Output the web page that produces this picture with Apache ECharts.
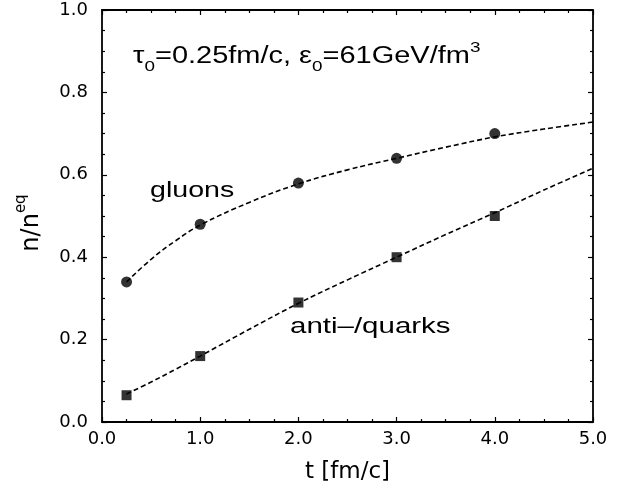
<!DOCTYPE html>
<html><head><meta charset="utf-8">
<script src="https://cdn.jsdelivr.net/npm/echarts@6/dist/echarts.min.js"></script>
<style>html,body{margin:0;padding:0;background:#fff}#c{width:633px;height:487px}</style>
</head><body><div id="c"></div>
<script>
// data
const gluonT = [0.25, 1, 2, 3, 4];
const gluonN = [0.34, 0.48, 0.58, 0.64, 0.70];
const quarkT = [0.25, 1, 2, 3, 4];
const quarkN = [0.065, 0.16, 0.29, 0.40, 0.50];
const gluonCurveT = [0.25, 0.5, 0.75, 1, 1.5, 2, 2.5, 3, 3.5, 4, 4.5, 5];
const gluonCurveN = [0.34, 0.395, 0.44, 0.478, 0.533, 0.578, 0.612, 0.640, 0.667, 0.692, 0.711, 0.728];
const quarkCurveT = [0.25, 0.5, 0.75, 1, 1.5, 2, 2.5, 3, 3.5, 4, 4.5, 5];
const quarkCurveN = [0.068, 0.097, 0.128, 0.16, 0.225, 0.288, 0.345, 0.40, 0.455, 0.508, 0.563, 0.616];
const xRange = [0, 5];
const yRange = [0, 1];
const xName = 't [fm/c]';
const gluonLabel = 'gluons';
const quarkLabel = 'anti–/quarks';

const zip = (a, b) => a.map((v, i) => [v, b[i]]);
const AX = 'DejaVu Sans';
const TX = 'Liberation Sans';

function xAx(pos, show) {
  return {
    type: 'value', position: pos, min: xRange[0], max: xRange[1], interval: 1,
    axisLine: { show: true, onZero: false, lineStyle: { color: '#000', width: 1.8 } },
    axisTick: { show: true, inside: true, length: 5, lineStyle: { color: '#000', width: 1.2 } },
    minorTick: { show: true, splitNumber: 4, length: 3, lineStyle: { color: '#000', width: 1.2 } },
    splitLine: { show: false },
    axisLabel: { show: show, margin: 8, color: '#000', fontFamily: AX, fontSize: 18, formatter: v => v.toFixed(1) },
    name: show ? xName : '', nameLocation: 'middle', nameGap: 39,
    nameTextStyle: { color: '#000', fontFamily: AX, fontSize: 23 }
  };
}
function yAx(pos, show) {
  return {
    type: 'value', position: pos, min: yRange[0], max: yRange[1], interval: 0.2,
    axisLine: { show: true, onZero: false, lineStyle: { color: '#000', width: 1.8 } },
    axisTick: { show: true, inside: true, length: 5, lineStyle: { color: '#000', width: 1.2 } },
    minorTick: { show: true, splitNumber: 4, length: 3, lineStyle: { color: '#000', width: 1.2 } },
    splitLine: { show: false },
    axisLabel: { show: show, margin: 14, color: '#000', fontFamily: AX, fontSize: 18, formatter: v => v.toFixed(1) },
    name: show ? '{a|n/n}{b|eq}' : '', nameLocation: 'middle', nameGap: 58, nameRotate: 90,
    nameTextStyle: {
      color: '#000', fontFamily: AX, fontSize: 23, padding: [0, 14, 0, 0],
      rich: {
        a: { fontFamily: AX, fontSize: 24, color: '#000', lineHeight: 30, verticalAlign: 'bottom' },
        b: { fontFamily: AX, fontSize: 15, color: '#000', lineHeight: 30, verticalAlign: 'top' }
      }
    }
  };
}

const chart = echarts.init(document.getElementById('c'), null, { renderer: 'canvas' });
const dash = { color: '#000', width: 1.6, type: [5, 3] };
chart.setOption({
  animation: false,
  backgroundColor: '#fff',
  grid: { left: 102, right: 40, top: 10, bottom: 65, containLabel: false, outerBoundsMode: 'none' },
  xAxis: [xAx('bottom', true), xAx('top', false)],
  yAxis: [yAx('left', true), yAx('right', false)],
  series: [
    { type: 'line', data: zip(gluonCurveT, gluonCurveN), smooth: 0.4, showSymbol: false, lineStyle: dash, z: 2 },
    { type: 'line', data: zip(quarkCurveT, quarkCurveN), smooth: 0.4, showSymbol: false, lineStyle: dash, z: 2 },
    { type: 'scatter', data: zip(gluonT, gluonN), symbol: 'circle', symbolSize: 11, itemStyle: { color: '#000' }, z: 3 },
    { type: 'scatter', data: zip(quarkT, quarkN), symbol: 'rect', symbolSize: 10, itemStyle: { color: '#000' }, z: 3 }
  ],
  graphic: [
    {
      type: 'text', x: 133, y: 57, scaleX: 1.26,
      style: {
        text: '{t|τ}{s|0}{t|=0.25fm/c, ε}{s|0}{t|=61GeV/fm}{p|3}',
        fill: '#000', verticalAlign: 'middle', align: 'left',
        rich: {
          t: { fontFamily: TX, fontSize: 23, fill: '#000', lineHeight: 34, verticalAlign: 'middle' },
          s: { fontFamily: TX, fontSize: 15, fill: '#000', lineHeight: 34, verticalAlign: 'bottom' },
          p: { fontFamily: TX, fontSize: 15, fill: '#000', lineHeight: 34, verticalAlign: 'top' }
        }
      }
    },
    {
      type: 'text', x: 150, y: 202, scaleX: 1.3,
      style: { text: gluonLabel, fontFamily: TX, fontSize: 22, fill: '#000', verticalAlign: 'bottom', align: 'left' }
    },
    {
      type: 'text', x: 290, y: 338, scaleX: 1.34,
      style: { text: quarkLabel, fontFamily: TX, fontSize: 22, fill: '#000', verticalAlign: 'bottom', align: 'left' }
    }
  ]
});
</script></body></html>
